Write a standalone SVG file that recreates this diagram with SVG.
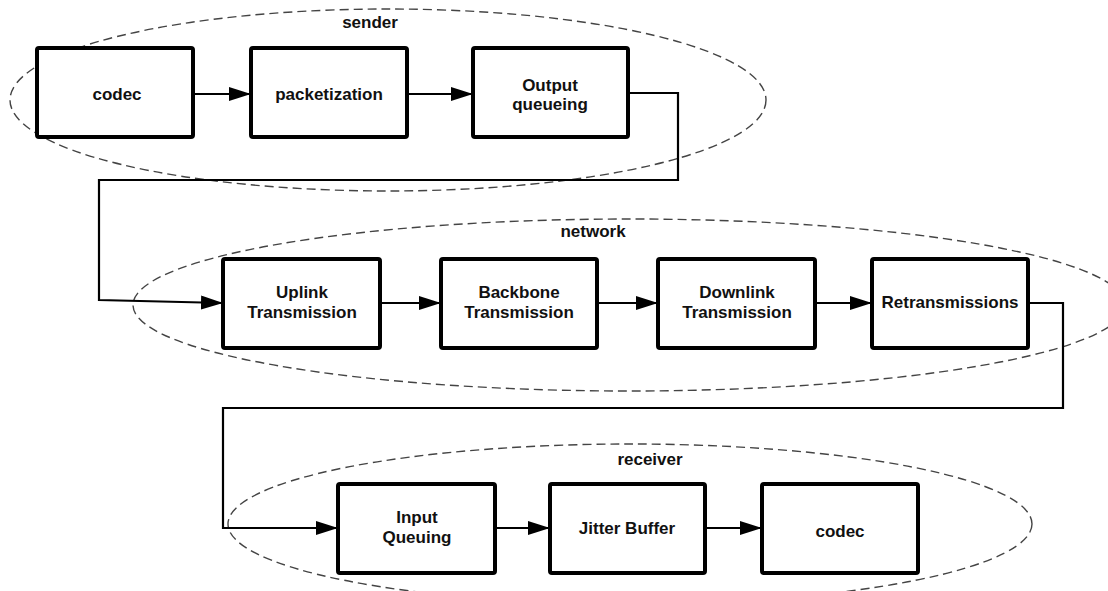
<svg xmlns="http://www.w3.org/2000/svg" width="1108" height="591" viewBox="0 0 1108 591">
  <style>
    .box { fill: #ffffff; stroke: #000000; stroke-width: 4; }
    .lbl { font-family: "Liberation Sans", Arial, sans-serif; font-weight: bold; font-size: 17px; fill: #111111; text-anchor: middle; }
    .grp { fill: none; stroke: #444444; stroke-width: 1.4; stroke-dasharray: 9 5; }
    .wire { fill: none; stroke: #000000; stroke-width: 2.2; }
  </style>
  <defs>
    <marker id="arrow" markerUnits="userSpaceOnUse" markerWidth="24" markerHeight="16" refX="22" refY="7" orient="auto">
      <path d="M0,0 L22,7 L0,14 Z" fill="#000000"/>
    </marker>
  </defs>
  <rect width="1108" height="591" fill="#ffffff"/>

  <!-- group outlines -->
  <g id="groups">
    <ellipse class="grp" cx="388" cy="100" rx="378" ry="91"/>
    <text class="lbl" x="370" y="28">sender</text>
    <ellipse class="grp" cx="629" cy="305" rx="496" ry="86"/>
    <text class="lbl" x="593" y="237">network</text>
    <ellipse class="grp" cx="630" cy="524" rx="402" ry="80"/>
    <text class="lbl" x="650" y="465">receiver</text>
  </g>

  <!-- connectors -->
  <g id="connectors">
    <line class="wire" x1="193" y1="94" x2="251" y2="94" marker-end="url(#arrow)"/>
    <line class="wire" x1="407" y1="94" x2="473" y2="94" marker-end="url(#arrow)"/>
    <polyline class="wire" points="628,93 678,93 678,180 99,180 99,300 223,303" marker-end="url(#arrow)"/>
    <line class="wire" x1="380" y1="303" x2="441" y2="303" marker-end="url(#arrow)"/>
    <line class="wire" x1="597" y1="303" x2="658" y2="303" marker-end="url(#arrow)"/>
    <line class="wire" x1="815" y1="303" x2="872" y2="303" marker-end="url(#arrow)"/>
    <polyline class="wire" points="1028,303 1063,303 1063,408 223,408 223,528 338,528" marker-end="url(#arrow)"/>
    <line class="wire" x1="495" y1="528" x2="550" y2="528" marker-end="url(#arrow)"/>
    <line class="wire" x1="705" y1="528" x2="762" y2="528" marker-end="url(#arrow)"/>
  </g>

  <!-- sender -->
  <g id="sender-codec">
    <rect class="box" x="37" y="48" width="156" height="89" rx="2"/>
    <text class="lbl" x="117" y="100">codec</text>
  </g>
  <g id="packetization">
    <rect class="box" x="251" y="48" width="156" height="89" rx="2"/>
    <text class="lbl" x="329" y="100">packetization</text>
  </g>
  <g id="output-queueing">
    <rect class="box" x="473" y="48" width="155" height="89" rx="2"/>
    <text class="lbl" x="550" y="91">Output</text>
    <text class="lbl" x="550" y="110">queueing</text>
  </g>

  <!-- network -->
  <g id="uplink">
    <rect class="box" x="223" y="259" width="157" height="89" rx="2"/>
    <text class="lbl" x="302" y="298">Uplink</text>
    <text class="lbl" x="302" y="318">Transmission</text>
  </g>
  <g id="backbone">
    <rect class="box" x="441" y="259" width="156" height="89" rx="2"/>
    <text class="lbl" x="519" y="298">Backbone</text>
    <text class="lbl" x="519" y="318">Transmission</text>
  </g>
  <g id="downlink">
    <rect class="box" x="658" y="259" width="157" height="89" rx="2"/>
    <text class="lbl" x="737" y="298">Downlink</text>
    <text class="lbl" x="737" y="318">Transmission</text>
  </g>
  <g id="retransmissions">
    <rect class="box" x="872" y="259" width="156" height="89" rx="2"/>
    <text class="lbl" x="950" y="308">Retransmissions</text>
  </g>

  <!-- receiver -->
  <g id="input-queuing">
    <rect class="box" x="338" y="484" width="157" height="89" rx="2"/>
    <text class="lbl" x="417" y="523">Input</text>
    <text class="lbl" x="417" y="543">Queuing</text>
  </g>
  <g id="jitter-buffer">
    <rect class="box" x="550" y="484" width="155" height="89" rx="2"/>
    <text class="lbl" x="627" y="534">Jitter Buffer</text>
  </g>
  <g id="receiver-codec">
    <rect class="box" x="762" y="484" width="156" height="89" rx="2"/>
    <text class="lbl" x="840" y="537">codec</text>
  </g>
</svg>
